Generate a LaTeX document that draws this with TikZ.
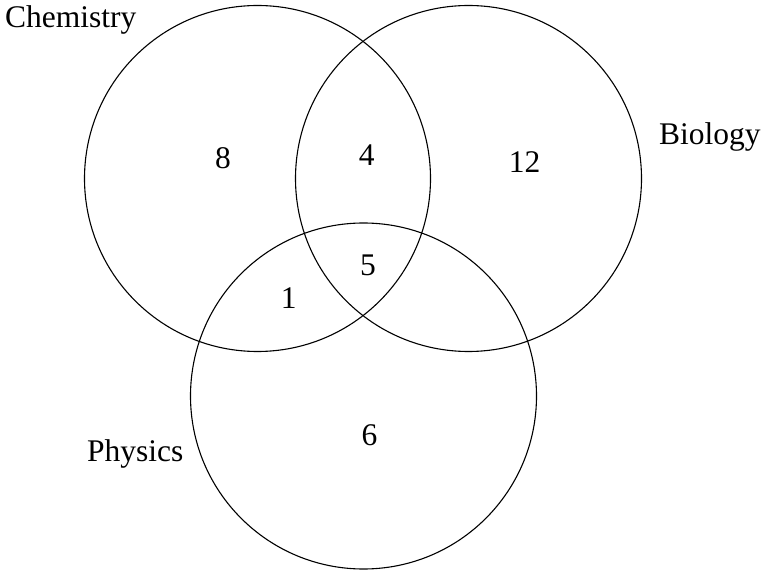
\documentclass[tikz,border=0pt]{standalone}
\usepackage{fontspec}
\setmainfont{Liberation Serif}
\begin{document}
\begin{tikzpicture}[x=1pt,y=-1pt,
  setc/.style={draw=black,line width=1.1pt,circle,minimum size=346pt,inner sep=0pt},
  num/.style={font=\fontsize{31.5}{36}\selectfont,inner sep=0pt,anchor=center},
  lab/.style={font=\fontsize{31.5}{36}\selectfont,inner sep=0pt,anchor=base west}]
\useasboundingbox (0,0) rectangle (761,572);
\node[setc] (chem) at (257.5,178.5) {};
\node[setc] (bio) at (468.5,178.5) {};
\node[setc] (phys) at (363.5,396) {};
\node[lab] (lchem) at (5,28) {Chemistry};
\node[lab] (lbio) at (659,144.3) {Biology};
\node[lab] (lphys) at (87,461) {Physics};
\node[num] (n8) at (223,158) {8};
\node[num] (n4) at (366.7,155) {4};
\node[num] (n12) at (524.7,162) {12};
\node[num] (n5) at (368,265.5) {5};
\node[num] (n1) at (288.7,297.8) {1};
\node[num] (n6) at (369.5,435) {6};
\end{tikzpicture}
\end{document}
